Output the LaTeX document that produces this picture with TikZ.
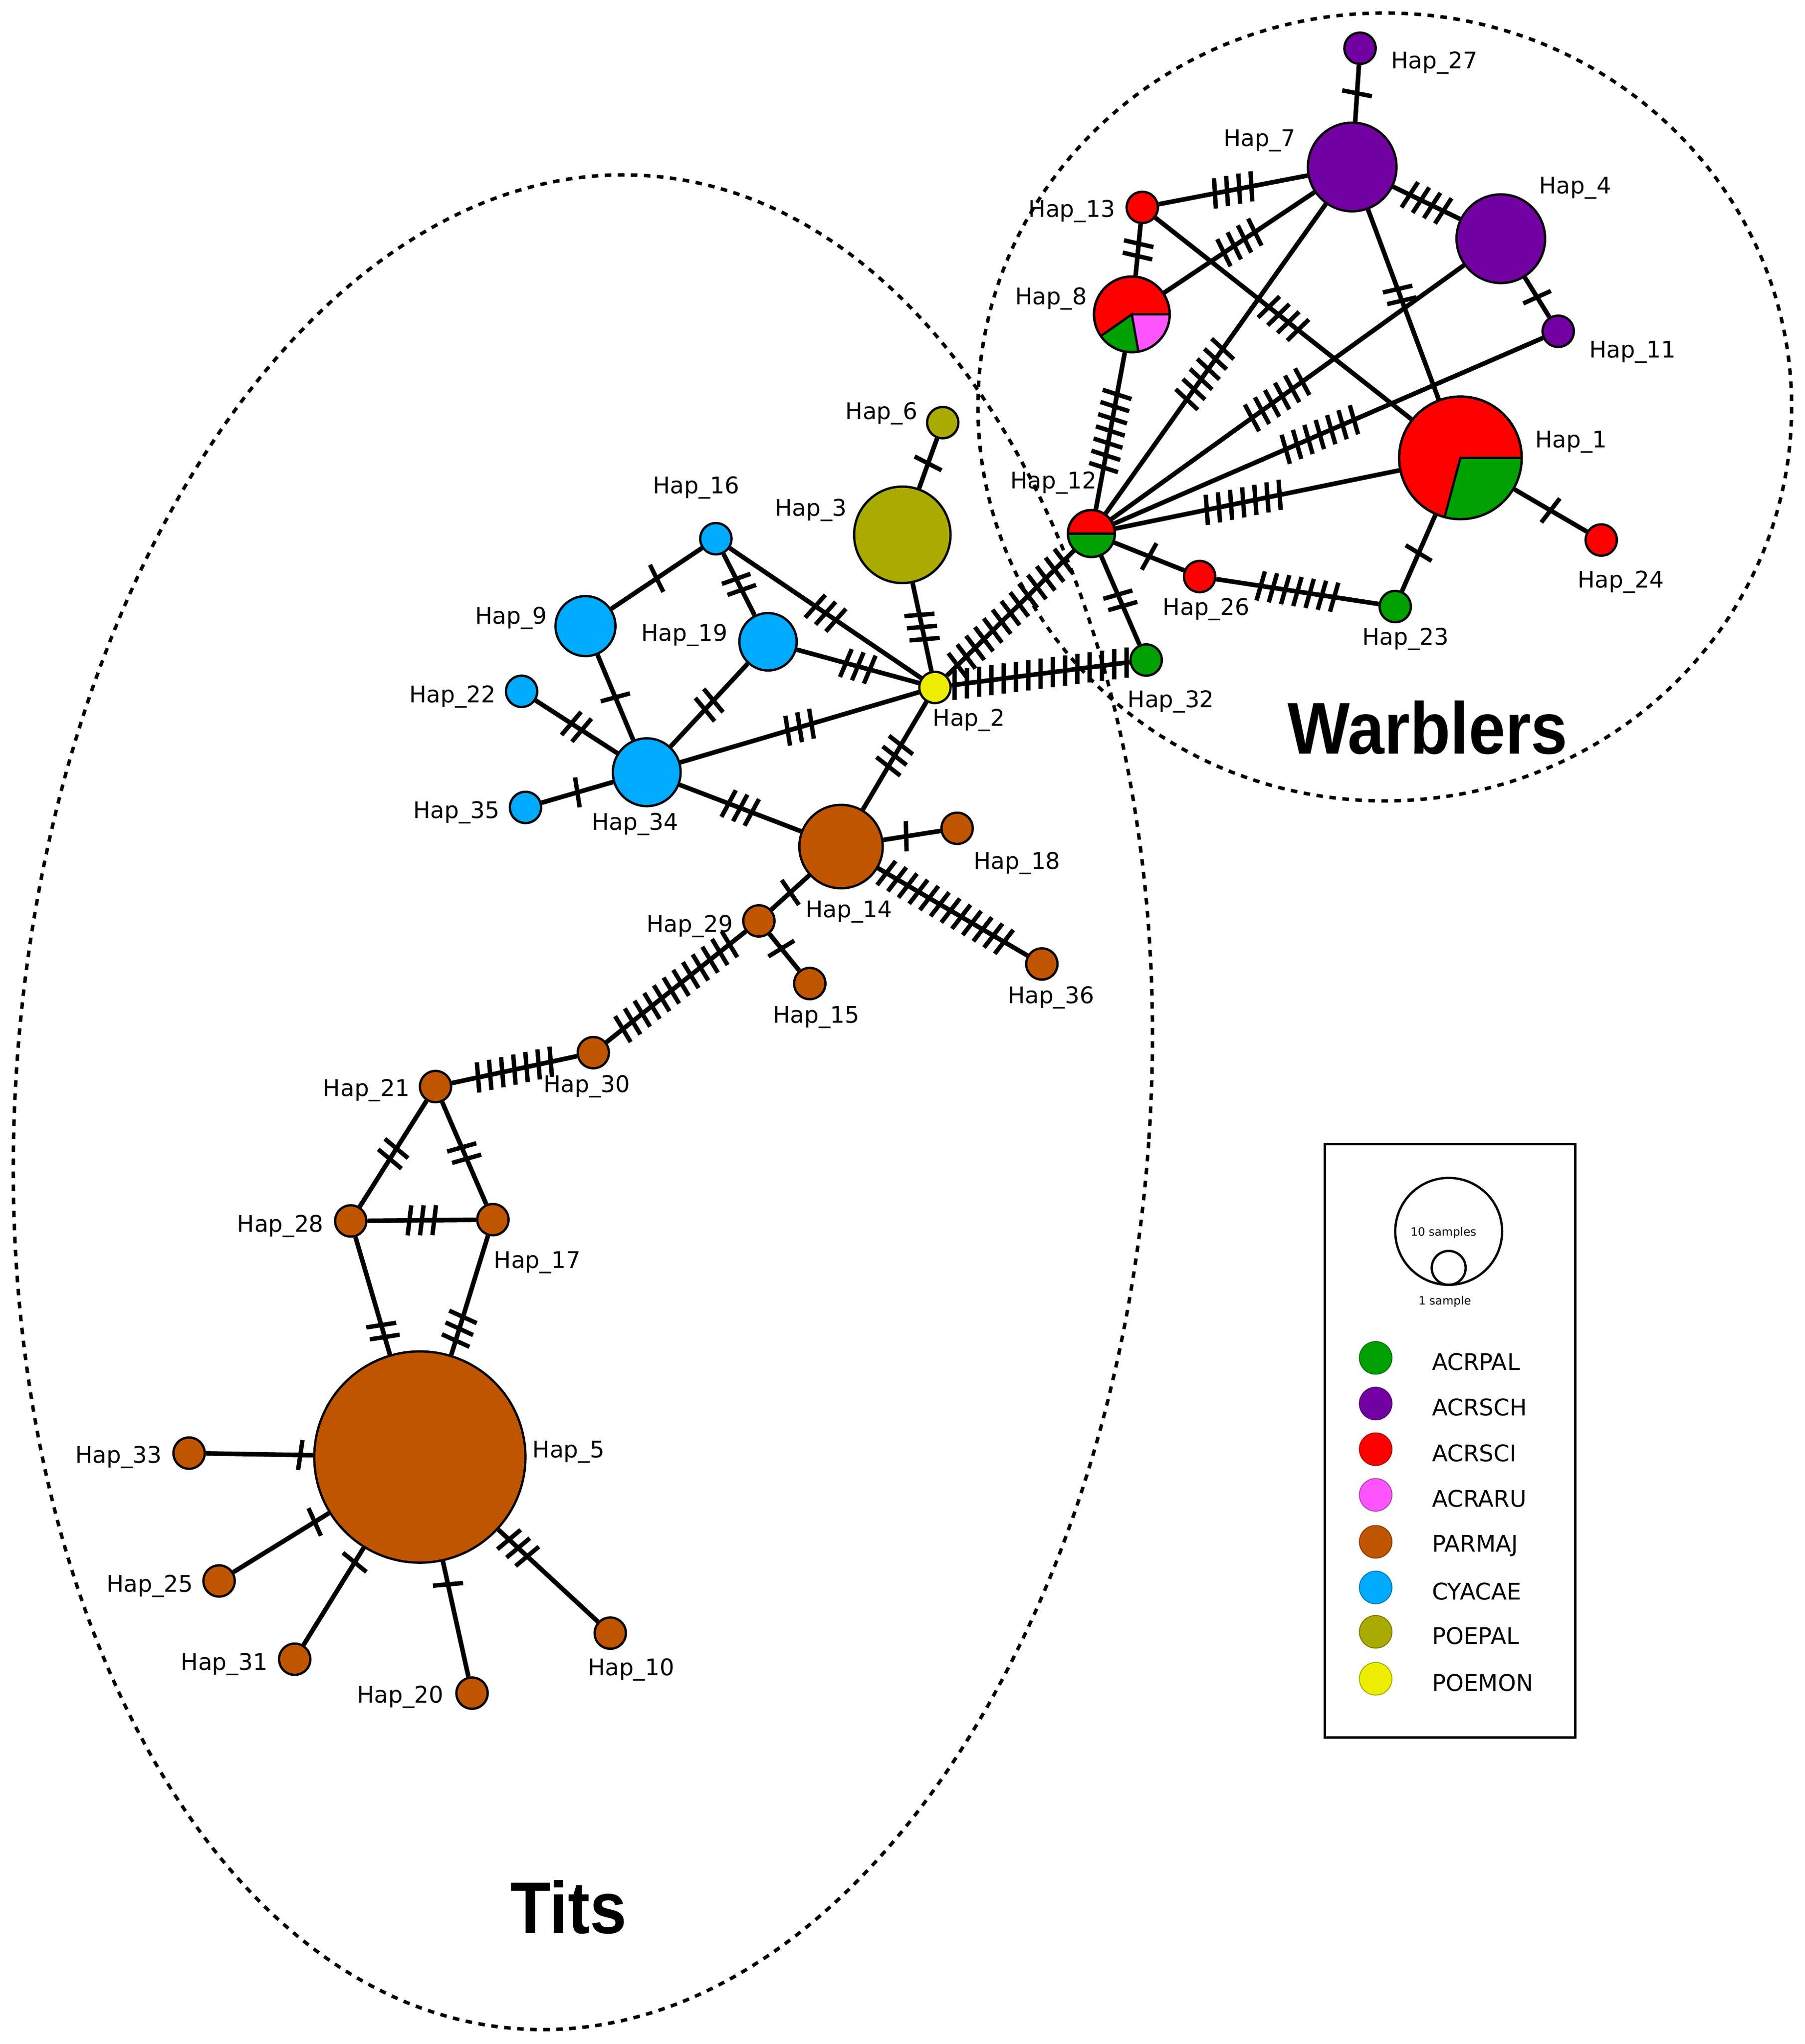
\documentclass[tikz,border=0pt]{standalone}
\usepackage{fontspec}
\setmainfont{DejaVu Sans}
\newfontfamily\arl{Liberation Sans}
\usetikzlibrary{decorations.markings,backgrounds}
\definecolor{cg}{HTML}{00A000}\definecolor{cp}{HTML}{7300A0}\definecolor{cr}{HTML}{FF0000}
\definecolor{cmag}{HTML}{FF55FF}\definecolor{cb}{HTML}{C05500}\definecolor{cc}{HTML}{00AAFF}
\definecolor{co}{HTML}{AAAA00}\definecolor{cy}{HTML}{EEEE00}
\tikzset{
 hap/.style={circle,draw=black,line width=1pt,inner sep=0pt},
 edge/.style={line width=2pt},
 lab/.style={font=\fontsize{10}{12}\selectfont},
 big/.style={font=\arl\bfseries\fontsize{32}{36}\selectfont,xscale=0.9},
 ell/.style={line width=1.5pt,dash pattern=on 0.1cm off 0.1cm},
 h/.style 2 args={postaction={decorate,decoration={markings,mark=at position #2 with {\foreach \i in {1,...,#1}{\draw[line width=1.9pt] ({(\i-(#1+1)/2)*0.19cm-0.03cm},-0.23cm)--({(\i-(#1+1)/2)*0.19cm+0.03cm},0.23cm);}}}}},
}
\newcommand\hp[5]{\node[hap,minimum size=#4*0.04cm,fill=#5] (#1) at (#2,#3) {};}
\begin{document}
\begin{tikzpicture}[x=0.02cm,y=-0.02cm]
\useasboundingbox (0,0) rectangle (1384,1567);
\draw[ell,rotate around={-4:(447,845)}] (447,845) ellipse [x radius=435, y radius=712];
\draw[ell] (1062,312) ellipse [x radius=312, y radius=302];
% nodes
\hp{h27}{1043}{37}{12}{cp}\hp{h7}{1037}{128}{34}{cp}\hp{h4}{1151}{183}{34}{cp}
\hp{h13}{876}{159}{12}{cr}\hp{h8}{868}{241}{29}{cr}\hp{h11}{1195}{254}{12}{cp}
\hp{h1}{1120}{351}{47}{cr}\hp{h24}{1228}{414}{12}{cr}\hp{h12}{837}{409}{18}{cr}
\hp{h26}{920}{442}{12}{cr}\hp{h23}{1070}{465}{12}{cg}\hp{h32}{879}{506}{12}{cg}
\hp{h6}{723}{324}{12}{co}\hp{h3}{692}{410}{37}{co}\hp{h2}{717}{527}{12}{cy}
\hp{h16}{549}{413}{12}{cc}\hp{h9}{449}{480}{23}{cc}\hp{h19}{589}{492}{22}{cc}
\hp{h22}{400}{530}{12}{cc}\hp{h34}{496}{592}{26}{cc}\hp{h35}{403}{619}{12}{cc}
\hp{h14}{645}{649}{32}{cb}\hp{h18}{734}{635}{12}{cb}\hp{h29}{582}{706}{12}{cb}
\hp{h15}{621}{754}{12}{cb}\hp{h36}{799}{739}{12}{cb}\hp{h30}{455}{807}{12}{cb}
\hp{h21}{334}{833}{12}{cb}\hp{h28}{269}{936}{12}{cb}\hp{h17}{378}{935}{12}{cb}
\hp{h5}{322}{1117}{81}{cb}\hp{h33}{145}{1114}{12}{cb}\hp{h25}{168}{1212}{12}{cb}
\hp{h31}{226}{1272}{12}{cb}\hp{h20}{362}{1298}{12}{cb}\hp{h10}{468}{1252}{12}{cb}
% pies
\fill[cg] (1120,351) -- ++(-105:0.94cm) arc[start angle=-105,end angle=0,radius=0.94cm] -- cycle;
\draw[line width=1pt] (1120,351) ++(-105:0.94cm) -- (1120,351) -- ++(0:0.94cm);
\draw[line width=1pt] (1120,351) circle[radius=0.94cm];
\fill[cg] (868,241) -- ++(215:0.58cm) arc[start angle=215,end angle=280,radius=0.58cm] -- cycle;
\fill[cmag] (868,241) -- ++(280:0.58cm) arc[start angle=280,end angle=360,radius=0.58cm] -- cycle;
\draw[line width=1pt] (868,241) ++(215:0.58cm) -- (868,241) -- ++(280:0.58cm) (868,241) -- ++(0:0.58cm);
\draw[line width=1pt] (868,241) circle[radius=0.58cm];
\fill[cg] (837,409) ++(0.36cm,0) arc[start angle=0,end angle=-180,radius=0.36cm] -- cycle;
\draw[line width=1pt] (837,409) ++(-0.36cm,0) -- ++(0.72cm,0);
\draw[line width=1pt] (837,409) circle[radius=0.36cm];
% edges
\begin{pgfonlayer}{background}
\draw[edge,h={1}{0.5}] (h27)--(h7);
\draw[edge,h={4}{0.5}] (h7)--(h13);
\draw[edge,h={4}{0.5}] (h7)--(h4);
\draw[edge,h={4}{0.5}] (h7)--(h8);
\draw[edge,h={6}{0.55}] (h7)--(h12);
\draw[edge,h={2}{0.45}] (h7)--(h1);
\draw[edge,h={6}{0.53}] (h4)--(h12);
\draw[edge,h={1}{0.5}] (h4)--(h11);
\draw[edge,h={2}{0.5}] (h13)--(h8);
\draw[edge,h={4}{0.5}] (h13)--(h1);
\draw[edge,h={7}{0.5}] (h8)--(h12);
\draw[edge,h={7}{0.52}] (h11)--(h12);
\draw[edge,h={7}{0.55}] (h1)--(h12);
\draw[edge,h={1}{0.5}] (h1)--(h24);
\draw[edge,h={1}{0.5}] (h1)--(h23);
\draw[edge,h={1}{0.5}] (h12)--(h26);
\draw[edge,h={7}{0.5}] (h26)--(h23);
\draw[edge,h={2}{0.5}] (h12)--(h32);
\draw[edge,h={13}{0.5}] (h12)--(h2);
\draw[edge,h={15}{0.5}] (h2)--(h32);
\draw[edge,h={1}{0.5}] (h6)--(h3);
\draw[edge,h={3}{0.5}] (h3)--(h2);
\draw[edge,h={3}{0.5}] (h2)--(h16);
\draw[edge,h={3}{0.5}] (h2)--(h19);
\draw[edge,h={3}{0.5}] (h2)--(h34);
\draw[edge,h={3}{0.5}] (h2)--(h14);
\draw[edge,h={1}{0.5}] (h16)--(h9);
\draw[edge,h={2}{0.5}] (h16)--(h19);
\draw[edge,h={2}{0.5}] (h19)--(h34);
\draw[edge,h={1}{0.5}] (h9)--(h34);
\draw[edge,h={2}{0.5}] (h22)--(h34);
\draw[edge,h={1}{0.5}] (h35)--(h34);
\draw[edge,h={3}{0.5}] (h34)--(h14);
\draw[edge,h={1}{0.4}] (h14)--(h18);
\draw[edge,h={1}{0.5}] (h14)--(h29);
\draw[edge,h={12}{0.45}] (h14)--(h36);
\draw[edge,h={1}{0.4}] (h29)--(h15);
\draw[edge,h={12}{0.5}] (h29)--(h30);
\draw[edge,h={7}{0.5}] (h30)--(h21);
\draw[edge,h={2}{0.5}] (h21)--(h28);
\draw[edge,h={2}{0.5}] (h21)--(h17);
\draw[edge,h={3}{0.5}] (h28)--(h17);
\draw[edge,h={2}{0.8}] (h28)--(h5);
\draw[edge,h={3}{0.78}] (h17)--(h5);
\draw[edge,h={1}{0.12}] (h5)--(h33);
\draw[edge,h={1}{0.15}] (h5)--(h25);
\draw[edge,h={1}{0.15}] (h5)--(h31);
\draw[edge,h={1}{0.2}] (h5)--(h20);
\draw[edge,h={3}{0.2}] (h5)--(h10);
\end{pgfonlayer}
% labels
\foreach \x/\y/\t in {1100/48/27,966/108/7,1208/144/4,822/162/13,806/229/8,1252/270/11,1205/339/1,1243/446/24,808/370/12,925/467/26,1078/490/23,898/538/32,676/317/6,622/391/3,743/552/2,534/374/16,392/474/9,525/487/19,347/534/22,487/632/34,350/623/35,651/699/14,780/662/18,529/710/29,626/780/15,806/765/36,450/833/30,281/836/21,215/940/28,412/968/17,436/1113/5,91/1117/33,115/1216/25,172/1276/31,307/1301/20,484/1280/10}
 \node[lab] (l\t) at (\x,\y) {Hap\_\t};
\node[big] (tw) at (1095,558) {Warblers};
\node[big] (tt) at (436,1462) {Tits};
% legend
\draw[line width=1pt] (1016,877) rectangle (1208,1332);
\draw[line width=1pt] (1111,944) circle[radius=0.82cm];
\draw[line width=1pt] (1111,972) circle[radius=0.26cm];
\node[font=\fontsize{5}{6}\selectfont] (t10) at (1107,945) {10 samples};
\node[font=\fontsize{5}{6}\selectfont] (t1) at (1108,998) {1 sample};
\foreach \y/\c/\t in {1041/cg/ACRPAL,1076/cp/ACRSCH,1111/cr/ACRSCI,1146/cmag/ACRARU,1182/cb/PARMAJ,1217/cc/CYACAE,1251/co/POEPAL,1287/cy/POEMON}{
 \node[circle,fill=\c,draw=\c!70!black,line width=0.4pt,minimum size=0.5cm,inner sep=0] (k\t) at (1055,\y) {};
 \node[lab,anchor=west] (n\t) at (1092,\y+3) {\t};}
\end{tikzpicture}
\end{document}
